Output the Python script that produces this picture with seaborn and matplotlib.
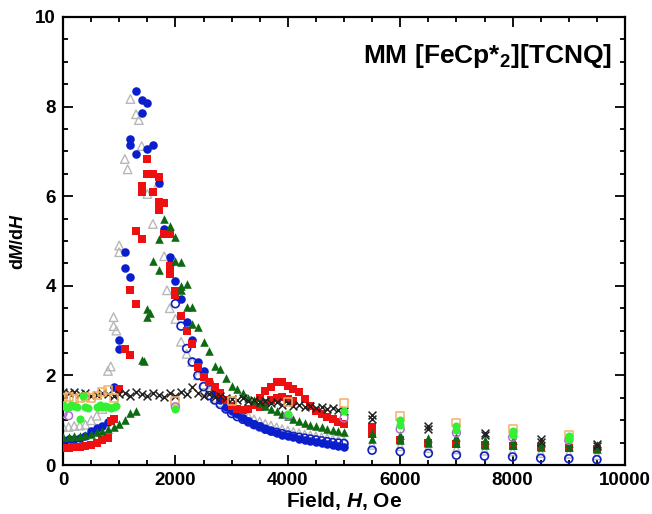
import numpy as np
import pandas as pd
import matplotlib
matplotlib.use("Agg")
import matplotlib.pyplot as plt
import seaborn as sns
from matplotlib.ticker import MultipleLocator

# ---------------- data ----------------
# blue filled circles
bf_x = [0, 100, 200, 300, 400, 500, 600, 700, 800, 900, 1000, 1000, 1100, 1100, 1200, 1200, 1200,
        1300, 1300, 1400, 1400, 1500, 1500, 1600, 1700, 1800, 1900, 1900, 2000, 2100, 2200, 2300,
        2400, 2500, 2600, 2700, 2800, 2900, 3000, 3100, 3200, 3300, 3400, 3500, 3600, 3700, 3800,
        3900, 4000, 4100, 4200, 4300, 4400, 4500, 4600, 4700, 4800, 4900, 5000]
bf_y = [0.56, 0.57, 0.58, 0.6, 0.65, 0.75, 0.82, 0.88, 0.95, 1.75, 2.8, 2.6, 4.75, 4.4, 4.2, 7.28, 7.14,
        8.35, 6.94, 8.15, 7.86, 8.07, 7.05, 7.14, 6.3, 5.27, 4.64, 4.49, 4.1, 3.7, 3.2, 2.8,
        2.3, 2.1, 1.85, 1.6, 1.45, 1.3, 1.2, 1.14, 1.06, 0.98, 0.92, 0.86, 0.8, 0.76, 0.72,
        0.68, 0.65, 0.62, 0.58, 0.56, 0.53, 0.51, 0.49, 0.46, 0.44, 0.42, 0.40]

# grey open triangles
gt_x = [0, 100, 200, 300, 400, 500, 600, 700, 800, 850, 900, 900, 950, 1000, 1000, 1100, 1150, 1200,
        1300, 1350, 1400, 1500, 1600, 1700, 1800, 1850, 1900, 2000, 2100, 2200, 2300, 2400, 2500,
        2600, 2700, 2800, 2900, 3000, 3100, 3200, 3300, 3400, 3500, 3600, 3700, 3800, 3900, 4000,
        4100, 4200, 4300, 4400, 4500, 4600, 4700, 4800, 4900, 5000,
        5500, 6000, 6500, 7000, 7500, 8000, 8500, 9000, 9500]
gt_y = [0.85, 0.85, 0.87, 0.88, 0.9, 1.0, 1.1, 1.25, 2.1, 2.2, 3.3, 3.1, 3.0, 4.9, 4.75, 6.83, 6.6, 8.17,
        7.83, 7.7, 7.12, 6.05, 5.38, 6.3, 4.66, 3.9, 3.5, 3.26, 2.75, 2.48, 2.3, 2.0, 1.8,
        1.65, 1.5, 1.4, 1.3, 1.3, 1.22, 1.15, 1.08, 1.02, 0.97, 0.92, 0.88, 0.84, 0.8, 0.77,
        0.74, 0.71, 0.68, 0.66, 0.64, 0.62, 0.6, 0.58, 0.56, 0.54,
        0.45, 0.42, 0.38, 0.35, 0.32, 0.3, 0.27, 0.25, 0.22]

# blue open circles
bo_x = [2000, 2100, 2200, 2300, 2400, 2500, 2600, 2700, 2800, 2900, 3000, 3100, 3200, 3300, 3400,
        3500, 3600, 3700, 3800, 3900, 4000, 4100, 4200, 4300, 4400, 4500, 4600, 4700, 4800, 4900,
        5000, 5500, 6000, 6500, 7000, 7500, 8000, 8500, 9000, 9500]
bo_y = [3.6, 3.1, 2.6, 2.3, 2.0, 1.75, 1.55, 1.45, 1.35, 1.25, 1.15, 1.08, 1.02, 0.96, 0.9,
        0.85, 0.8, 0.76, 0.73, 0.7, 0.67, 0.64, 0.62, 0.6, 0.58, 0.56, 0.54, 0.52, 0.5, 0.49,
        0.48, 0.33, 0.3, 0.26, 0.22, 0.2, 0.18, 0.15, 0.14, 0.12]

# red filled squares
rs_x = [0, 100, 200, 300, 400, 500, 600, 700, 800, 850, 900, 1000, 1100, 1200, 1200, 1300, 1300,
        1400, 1400, 1400, 1500, 1500, 1600, 1700, 1600, 1700, 1800, 1700, 1800, 1900, 1900, 1900,
        2000, 2000, 2100, 2200, 2300, 2400, 2500, 2600, 2700, 2800, 2900, 3000, 3100, 3200, 3300,
        3400, 3500, 3600, 3700, 3800, 3900, 4000, 4100, 4200, 4300, 4400, 4500, 4600, 4700, 4800,
        4900, 5000, 3500, 3600, 3700, 3800, 3900, 4000, 4100,
        5500, 5500, 6000, 6500, 7000, 7500, 8000, 8500, 9000, 9500]
rs_y = [0.38, 0.38, 0.4, 0.4, 0.42, 0.45, 0.5, 0.55, 0.6, 0.98, 1.03, 1.7, 2.6, 2.45, 3.9, 3.6, 5.22,
        5.04, 6.23, 6.1, 6.83, 6.5, 6.5, 6.43, 6.1, 5.87, 5.85, 5.7, 5.15, 5.15, 4.44, 4.26,
        3.88, 3.8, 3.33, 3.0, 2.7, 2.19, 1.96, 1.85, 1.74, 1.6, 1.45, 1.32, 1.25, 1.22, 1.25,
        1.35, 1.5, 1.65, 1.74, 1.85, 1.85, 1.76, 1.7, 1.63, 1.47, 1.32, 1.2, 1.14, 1.08, 1.03,
        0.95, 0.92, 1.3, 1.38, 1.45, 1.5, 1.52, 1.48, 1.42,
        0.85, 0.7, 0.55, 0.5, 0.47, 0.44, 0.42, 0.4, 0.38, 0.35]

# dark green filled triangles
dg_x = [0, 100, 200, 300, 400, 500, 600, 700, 800, 900, 1000, 1100, 1200, 1300, 1400, 1450, 1500,
        1550, 1500, 1600, 1700, 1700, 1800, 1900, 2000, 2000, 2100, 2100, 2100, 2200, 2200, 2300,
        2300, 2400, 2500, 2600, 2700, 2800, 2900, 3000, 3100, 3200, 3300, 3400, 3500, 3600, 3700,
        3800, 3900, 4000, 4100, 4200, 4300, 4400, 4500, 4600, 4700, 4800, 4900, 5000,
        5500, 5500, 6000, 6000, 6500, 6500, 7000, 7000, 7500, 7500, 8000, 8000, 8500, 8500,
        9000, 9000, 9500, 9500]
dg_y = [0.62, 0.63, 0.64, 0.65, 0.67, 0.7, 0.73, 0.76, 0.8, 0.85, 0.92, 1.0, 1.15, 1.2, 2.35, 2.33, 3.48,
        3.4, 3.3, 4.55, 4.35, 5.04, 5.5, 5.33, 5.1, 4.55, 4.53, 4.0, 3.9, 4.04, 3.53, 3.53,
        3.15, 3.08, 2.75, 2.55, 2.2, 2.15, 1.95, 1.76, 1.7, 1.6, 1.5, 1.45, 1.38, 1.32, 1.26,
        1.2, 1.14, 1.1, 1.03, 0.98, 0.94, 0.9, 0.87, 0.84, 0.8, 0.78, 0.76, 0.74,
        0.72, 0.58, 0.68, 0.55, 0.6, 0.5, 0.62, 0.5, 0.56, 0.45, 0.55, 0.45, 0.5, 0.4,
        0.5, 0.4, 0.45, 0.36]

# black crosses
bx_x = [0, 100, 200, 300, 400, 500, 600, 700, 800, 900, 1000, 1100, 1200, 1300, 1400, 1500, 1600,
        1700, 1800, 1900, 2000, 2100, 2200, 2300, 2400, 2500, 2600, 2700, 2800, 2900, 3000, 3100,
        3200, 3300, 3400, 3500, 3600, 3700, 3800, 3900, 4000, 4100, 4200, 4300, 4400, 4500, 4600,
        4700, 4800, 4900, 5000,
        5500, 5500, 6500, 6500, 7500, 7500, 8500, 8500, 9500, 9500]
bx_y = [1.62, 1.6, 1.63, 1.58, 1.6, 1.55, 1.57, 1.6, 1.58, 1.55, 1.58, 1.6, 1.55, 1.62, 1.58, 1.55, 1.6,
        1.57, 1.52, 1.6, 1.55, 1.62, 1.58, 1.74, 1.6, 1.55, 1.58, 1.52, 1.55, 1.5, 1.48, 1.45,
        1.5, 1.42, 1.45, 1.4, 1.42, 1.38, 1.4, 1.35, 1.38, 1.32, 1.35, 1.3, 1.32, 1.28, 1.3,
        1.25, 1.28, 1.22, 1.2,
        1.12, 1.02, 0.86, 0.8, 0.72, 0.66, 0.57, 0.52, 0.47, 0.42]

# orange open squares
os_x = [0, 100, 200, 300, 400, 500, 600, 700, 800, 900, 2000, 3000, 4000, 5000, 6000, 7000, 8000, 9000]
os_y = [1.5, 1.52, 1.48, 1.5, 1.52, 1.5, 1.55, 1.62, 1.68, 1.5, 1.42, 1.43, 1.4, 1.38, 1.1, 0.95, 0.8, 0.68]

# purple open circles
pc_x = [0, 100, 2000, 4000, 5000, 6000, 7000, 8000, 9000]
pc_y = [1.15, 1.1, 1.3, 1.1, 1.05, 0.8, 0.72, 0.62, 0.55]

# bright green filled circles
lg_x = [0, 50, 100, 150, 200, 250, 300, 350, 400, 450, 600, 650, 700, 750, 800, 850, 900, 950,
        2000, 4000, 5000, 6000, 6000, 7000, 7000, 8000, 8000, 9000, 9000]
lg_y = [1.33, 1.3, 1.3, 1.35, 1.32, 1.3, 1.03, 1.55, 1.3, 1.28, 1.3, 1.33, 1.3, 1.32, 1.3, 1.28, 1.3, 1.32,
        1.25, 1.14, 1.2, 1.0, 0.9, 0.88, 0.78, 0.75, 0.68, 0.65, 0.58]

title_text = r"MM [FeCp*$_{2}$][TCNQ]"
x_label = r"Field, $H$, Oe"
y_label = r"d$M$/d$H$"

# ---------------- style ----------------
sns.set_theme(style="ticks")
fam = ["Liberation Sans", "DejaVu Sans"]
plt.rcParams["font.family"] = fam
plt.rcParams["font.weight"] = "bold"
plt.rcParams["text.color"] = "black"
plt.rcParams["axes.labelcolor"] = "black"
plt.rcParams["xtick.color"] = "black"
plt.rcParams["ytick.color"] = "black"
plt.rcParams["mathtext.fontset"] = "custom"
plt.rcParams["mathtext.rm"] = "Liberation Sans:bold"
plt.rcParams["mathtext.it"] = "Liberation Sans:italic:bold"
plt.rcParams["mathtext.bf"] = "Liberation Sans:bold"

fig = plt.figure(figsize=(6.52, 5.14), dpi=100)
ax = fig.add_axes([63 / 652, 1 - 465 / 514, 562 / 652, 448 / 514])

def draw(xs, ys, marker, color, s, filled=True, lw=0.0, z=2):
    df = pd.DataFrame({"H": xs, "dMdH": ys})
    if filled:
        sns.scatterplot(data=df, x="H", y="dMdH", marker=marker, s=s, color=color,
                        edgecolor=color, linewidth=lw, ax=ax, legend=False, zorder=z)
    else:
        sns.scatterplot(data=df, x="H", y="dMdH", marker=marker, s=s, color=color,
                        facecolors="none", edgecolor=color, linewidth=lw, ax=ax,
                        legend=False, zorder=z)

draw(gt_x, gt_y, "^", "#b8b8b8", 38, filled=False, lw=1.0, z=2)
draw(bo_x, bo_y, "o", "#1020c0", 32, filled=False, lw=1.2, z=3)
draw(bf_x, bf_y, "o", "#0a1ecc", 38, z=4)
draw(rs_x, rs_y, "s", "#ee1010", 34, z=5)
draw(dg_x, dg_y, "^", "#0d6a12", 38, z=6)
draw(bx_x, bx_y, "x", "#222222", 32, lw=1.1, z=7)
draw(os_x, os_y, "s", "#f4b060", 32, filled=False, lw=1.1, z=7)
draw(pc_x, pc_y, "o", "#b070d0", 32, filled=False, lw=1.1, z=7)
draw(lg_x, lg_y, "o", "#33f033", 34, z=8)

ax.set_xlim(0, 10000)
ax.set_ylim(0, 10)
ax.xaxis.set_major_locator(MultipleLocator(2000))
ax.xaxis.set_minor_locator(MultipleLocator(500))
ax.yaxis.set_major_locator(MultipleLocator(2))
ax.yaxis.set_minor_locator(MultipleLocator(0.5))
ax.tick_params(which="both", direction="in", top=True, right=True, width=1.3, color="black")
ax.tick_params(which="major", length=7, labelsize=13.5, pad=5)
ax.tick_params(which="minor", length=3.5)
for lab in ax.get_xticklabels() + ax.get_yticklabels():
    lab.set_fontweight("bold")
for sp in ax.spines.values():
    sp.set_visible(True)
    sp.set_linewidth(1.6)
    sp.set_color("black")

ax.set_xlabel(x_label, fontsize=15, fontweight="bold", labelpad=1)
ax.set_ylabel(y_label, fontsize=13, fontweight="bold", labelpad=6)
ax.text(0.977, 0.912, title_text, transform=ax.transAxes, ha="right", va="center",
        fontsize=19, fontweight="bold")

fig.savefig("out.png", dpi=100)
